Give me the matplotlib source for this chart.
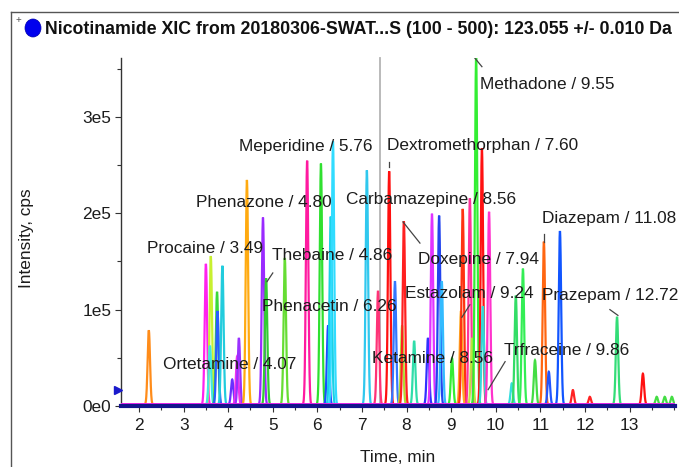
import numpy as np
import matplotlib
matplotlib.use("Agg")
import matplotlib.pyplot as plt
from matplotlib import font_manager
from matplotlib.patches import Ellipse
from matplotlib.lines import Line2D

# ---------------- data ----------------
title_text = "Nicotinamide XIC from 20180306-SWAT...S (100 - 500): 123.055 +/- 0.010 Da"
x_label = "Time, min"
y_label = "Intensity, cps"
x_ticks = [2, 3, 4, 5, 6, 7, 8, 9, 10, 11, 12, 13]
y_ticks = [0, 100000, 200000, 300000]
y_tick_labels = ["0e0", "1e5", "2e5", "3e5"]

peak_times = [2.22, 3.50, 3.61, 3.59, 3.75, 3.76, 3.87, 4.09, 4.20, 4.24,
              4.42, 4.78, 4.85, 5.27, 5.77, 6.08, 6.24, 6.30, 6.35, 7.11,
              7.36, 7.61, 7.74, 7.90, 7.94, 8.17, 8.48, 8.57, 8.73, 8.79,
              9.02, 9.22, 9.26, 9.42, 9.47, 9.56, 9.69, 9.71, 9.85, 10.36,
              10.45, 10.61, 10.88, 11.08, 11.19, 11.44, 11.73, 12.11, 12.72, 13.30,
              13.61, 13.79, 13.95]
peak_heights = [77000, 146000, 154000, 61000, 117000, 97000, 144000, 26000, 50000, 69000,
                233000, 194000, 131000, 152000, 253000, 250000, 82000, 195000, 273000, 243000,
                118000, 242000, 128000, 82000, 190000, 66000, 69000, 198000, 196000, 128000,
                48000, 97000, 203000, 214000, 69000, 361000, 266000, 102000, 200000, 22000,
                113000, 141000, 46000, 169000, 34000, 180000, 15000, 8000, 91000, 32000,
                8000, 8000, 8000]
peak_colors = ["#ff8c1a", "#ff22ee", "#c8f030", "#40e8e0", "#3ad83a", "#2a5cff", "#22ccdd", "#6a30ff", "#ee33ee", "#9a30ff",
               "#ffaa10", "#9a2aff", "#33cc33", "#66dd33", "#ff1aa0", "#30e030", "#1a4dff", "#1ad1e6", "#30dcff", "#30c8ee",
               "#ff3377", "#ff1010", "#3377ff", "#b0dd30", "#ff2020", "#30ddaa", "#3030ff", "#e033ff", "#2244ee", "#33bbff",
               "#33ee33", "#ffaa22", "#ff3311", "#ff3399", "#c0e040", "#33ee33", "#ff1111", "#33d8d8", "#ff33cc", "#33dddd",
               "#33dd66", "#33ee55", "#44dd44", "#ff6611", "#2255ff", "#1155ff", "#ff2222", "#ff2222", "#33dd77", "#ff1111",
               "#44dd44", "#44dd44", "#44dd44"]

compound_labels = ["Methadone / 9.55", "Meperidine / 5.76", "Dextromethorphan / 7.60",
                   "Phenazone / 4.80", "Carbamazepine / 8.56", "Diazepam / 11.08",
                   "Procaine / 3.49", "Thebaine / 4.86", "Doxepine / 7.94",
                   "Estazolam / 9.24", "Prazepam / 12.72", "Phenacetin / 6.26",
                   "Ortetamine / 4.07", "Ketamine / 8.56", "Trfraceine / 9.86"]

# ---------------- layout / style ----------------
label_pos = [(9.65, 334000), (4.24, 269000), (7.56, 270000),
             (3.28, 211000), (6.64, 214000), (11.04, 194000),
             (2.18, 163000), (4.98, 156000), (8.26, 152000),
             (7.96, 117000), (11.04, 115000), (4.76, 103000),
             (2.54, 43000), (7.22, 49000), (10.18, 58000)]
leaders = [((9.53, 9.69), (361000, 352000)),
           ((7.61, 7.61), (253000, 248000)),
           ((7.92, 8.30), (191000, 169000)),
           ((11.08, 11.08), (178000, 170000)),
           ((12.56, 12.74), (100000, 94000)),
           ((5.00, 4.87), (138000, 129000)),
           ((10.21, 9.83), (46000, 17000)),
           ((9.42, 9.24), (105000, 92000))]
cursor_time = 7.41
sigma = 0.027

names = {f.name for f in font_manager.fontManager.ttflist}
if "Liberation Sans Narrow" in names:
    FONT = ["Liberation Sans Narrow", "DejaVu Sans"]
    FS = 15.0
else:
    FONT = ["Liberation Sans", "DejaVu Sans"]
    FS = 12.4
plt.rcParams["font.family"] = FONT
TXT = "#1c1c1c"

W, H = 679, 467
fig = plt.figure(figsize=(W / 100, H / 100), dpi=100)
ax_l, ax_r, ax_t, ax_b = 121, 675, 58, 406
ax = fig.add_axes([ax_l / W, 1 - ax_b / H, (ax_r - ax_l) / W, (ax_b - ax_t) / H])

x0, x1 = 1.596, 14.02
ax.set_xlim(x0, x1)
ax.set_ylim(0, 361000)

# baseline traces
ax.plot([x0, x1], [2400, 2400], color="#ee22ee", lw=1.4, zorder=3)

for t, h, c in zip(peak_times, peak_heights, peak_colors):
    xs = np.linspace(t - 0.16, t + 0.16, 129)
    ys = 1500 + h * np.exp(-0.5 * ((xs - t) / sigma) ** 2)
    ax.plot(xs, ys, color=c, lw=1.6, zorder=2, solid_joinstyle="miter")

ax.axvline(cursor_time, color="#b4b4b4", lw=1.3, zorder=1, clip_on=False)

for (lx, ly) in leaders:
    ax.plot(lx, ly, color="#444444", lw=0.9, zorder=4)

for txt, (px, py) in zip(compound_labels, label_pos):
    ax.text(px, py, txt, ha="left", va="center", fontsize=FS, color=TXT, zorder=5)

# axes styling
for s in ["top", "right"]:
    ax.spines[s].set_visible(False)
ax.spines["left"].set_color("#333333")
ax.spines["left"].set_linewidth(1.0)
ax.spines["bottom"].set_color("#14148c")
ax.spines["bottom"].set_linewidth(3.0)
ax.spines["bottom"].set_zorder(6)

ax.set_xticks(x_ticks)
ax.set_xticklabels([str(v) for v in x_ticks])
ax.set_xticks(np.arange(2, 14.01, 0.5), minor=True)
ax.set_yticks(y_ticks)
ax.set_yticklabels(y_tick_labels)
ax.set_yticks(np.arange(0, 360001, 50000), minor=True)
ax.tick_params(axis="both", which="both", direction="out", color="#333333", width=0.8)
ax.tick_params(axis="both", which="major", length=4, labelsize=FS, labelcolor=TXT)
ax.tick_params(axis="both", which="minor", length=3)
ax.tick_params(axis="x", which="major", pad=5)
ax.tick_params(axis="y", which="major", pad=3)

# blue marker on y axis
ax.plot([x0 - 0.07], [17000], marker=">", color="#1a1acc", markersize=6, clip_on=False, zorder=7)

fig.text(398 / W, 1 - 458 / H, x_label, ha="center", va="center", fontsize=FS, color=TXT)
fig.text(26 / W, 1 - 238 / H, y_label, ha="center", va="center", rotation=90, fontsize=FS, color=TXT)

# title, fitted to width
tt = fig.text(45 / W, 1 - 29 / H, title_text, ha="left", va="center", fontsize=15,
              fontweight="bold", color="#111111")
fig.canvas.draw()
bb = tt.get_window_extent()
tt.set_fontsize(15 * 627 / bb.width)

fig.add_artist(Ellipse((33 / W, 1 - 28 / H), 16 / W, 18 / H, transform=fig.transFigure,
                       facecolor="#0000ee", edgecolor="#0000aa", lw=0.5))
fig.text(18 / W, 1 - 20 / H, "+", ha="center", va="center", fontsize=7, color="#555555")

# frame lines
fig.add_artist(Line2D([11 / W, 1.0], [1 - 12 / H, 1 - 12 / H], transform=fig.transFigure,
                      color="#555555", lw=1.0))
fig.add_artist(Line2D([11 / W, 11 / W], [1 - 12 / H, 0.0], transform=fig.transFigure,
                      color="#555555", lw=1.0))

fig.savefig("out.png", dpi=100)
